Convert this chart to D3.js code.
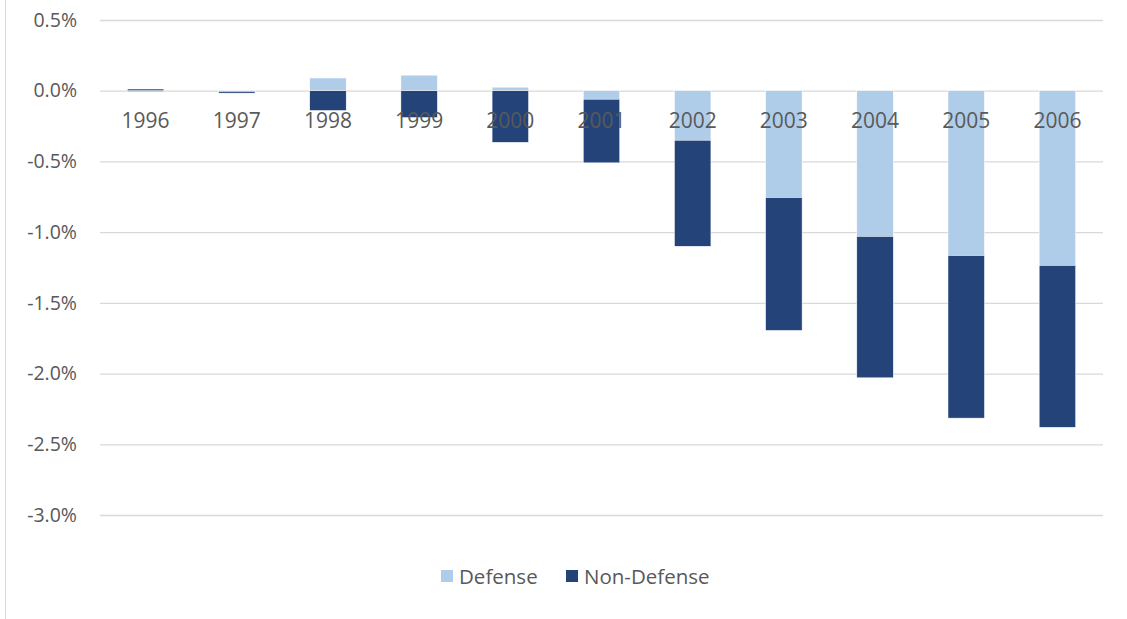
<!DOCTYPE html>
<html>
<head>
<meta charset="utf-8">
<script src="https://cdn.jsdelivr.net/npm/d3@7"></script>
<style>
  body { margin: 0; background: #fff; }
  text { font-family: "Open Sans", "Liberation Sans", sans-serif; fill: #595959; }
</style>
</head>
<body>
<div id="chart-area"><svg></svg></div>
<script>
const years = ['1996', '1997', '1998', '1999', '2000', '2001', '2002', '2003', '2004', '2005', '2006'];
const defense = [-0.01, -0.005, 0.09, 0.11, 0.025, -0.06, -0.35, -0.755, -1.03, -1.165, -1.235];
const nonDefense = [0.012, -0.012, -0.14, -0.19, -0.365, -0.45, -0.75, -0.94, -1.0, -1.15, -1.145];
const yTicks = [0.5, 0, -0.5, -1.0, -1.5, -2.0, -2.5, -3.0];
const seriesNames = ['Defense', 'Non-Defense'];
const colors = ['#afcde9', '#244378'];

const chartSize = { width: 1127, height: 619 };
const margin = { left: 100, right: 24, top: 20, bottom: 104 };
const width = chartSize.width - margin.left - margin.right;
const height = chartSize.height - margin.top - margin.bottom;

const drawChart = () => {
    const svg = d3.select('#chart-area svg')
        .attr('width', chartSize.width)
        .attr('height', chartSize.height);

    // outer chart border (left edge visible)
    svg.append('line')
        .attr('x1', 5.5).attr('x2', 5.5)
        .attr('y1', 0).attr('y2', chartSize.height)
        .attr('stroke', '#d9d9d9');

    const g = svg.append('g')
        .attr('transform', `translate(${margin.left},${margin.top})`);

    const x = d3.scaleBand()
        .domain(years)
        .range([0, width])
        .paddingInner(0.6)
        .paddingOuter(0.3);

    const y = d3.scaleLinear()
        .domain([-3.0, 0.5])
        .range([height, 0]);

    const yAxis = d3.axisLeft(y)
        .tickValues(yTicks)
        .tickFormat(d => d.toFixed(1) + '%')
        .tickSize(-width)
        .tickPadding(23);

    g.append('g')
        .attr('class', 'y-axis')
        .call(yAxis)
        .call(a => a.select('.domain').remove())
        .call(a => a.selectAll('line').attr('stroke', '#d9d9d9').attr('stroke-width', 1.3))
        .call(a => a.selectAll('text').style('font-size', '19.5px').attr('fill', '#595959'));

    // stacked bars, Excel-style: positives up from zero, negatives down
    const rows = years.map((yr, i) => ({ year: yr, vals: [defense[i], nonDefense[i]] }));
    rows.forEach(r => {
        let pos = 0, neg = 0;
        r.segs = r.vals.map((v, k) => {
            let y0, y1;
            if (v >= 0) { y0 = pos; y1 = pos + v; pos = y1; }
            else { y0 = neg; y1 = neg + v; neg = y1; }
            return { year: r.year, k, y0, y1 };
        });
    });

    const bar = g.selectAll('.bar')
        .data(rows)
        .enter()
        .append('g')
        .attr('class', 'bar');

    bar.selectAll('rect')
        .data(r => r.segs)
        .enter()
        .append('rect')
        .attr('x', s => x(s.year))
        .attr('width', x.bandwidth())
        .attr('y', s => y(Math.max(s.y0, s.y1)))
        .attr('height', s => Math.max(1, Math.abs(y(s.y0) - y(s.y1))))
        .attr('fill', s => colors[s.k])
        .attr('stroke', '#ffffff')
        .attr('stroke-width', 0.5);

    // category labels sit just under the zero line
    const xAxis = d3.axisBottom(x).tickSize(0).tickPadding(22);
    g.append('g')
        .attr('class', 'x-axis')
        .attr('transform', `translate(0,${y(0)})`)
        .call(xAxis)
        .call(a => a.select('.domain').remove())
        .call(a => a.selectAll('text').style('font-size', '21px').attr('fill', '#595959'));

    // legend
    const legend = svg.append('g')
        .attr('transform', 'translate(441,570)');
    const items = [{ name: seriesNames[0], x: 0 }, { name: seriesNames[1], x: 125 }];
    items.forEach((it, k) => {
        legend.append('rect')
            .attr('x', it.x).attr('y', 0)
            .attr('width', 12).attr('height', 12)
            .attr('fill', colors[k]);
        legend.append('text')
            .attr('x', it.x + 18).attr('y', 14)
            .style('font-size', '20.5px')
            .text(it.name);
    });
};

window.onload = drawChart;
</script>
</body>
</html>
